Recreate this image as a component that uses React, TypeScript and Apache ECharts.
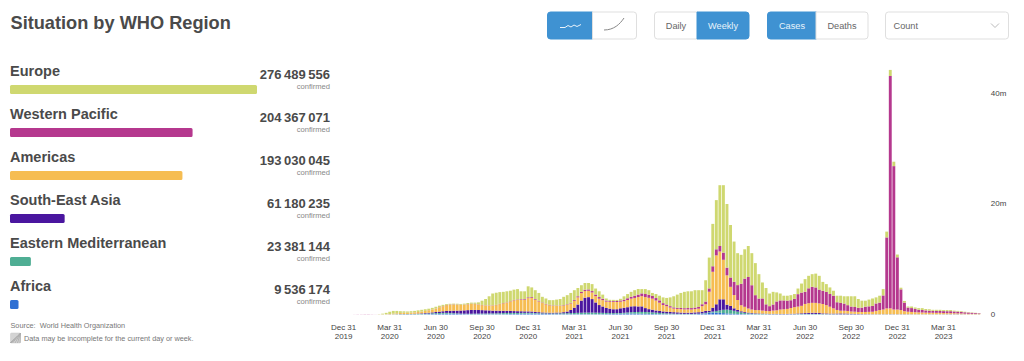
import React, { useEffect, useRef } from "react";
import * as echarts from "echarts";

const FONT = '"Liberation Sans", Arial, sans-serif';

const tickLabels = ["Dec 31\n2019","Mar 31\n2020","Jun 30\n2020","Sep 30\n2020","Dec 31\n2020","Mar 31\n2021","Jun 30\n2021","Sep 30\n2021","Dec 31\n2021","Mar 31\n2022","Jun 30\n2022","Sep 30\n2022","Dec 31\n2022","Mar 31\n2023"];

const regions = ["Europe","Western Pacific","Americas","South-East Asia","Eastern Mediterranean","Africa"];
const regionTotals = [276489556,204367071,193030045,61180235,23381144,9536174];
const regionColors = ["#cfd870","#b5388e","#f6bd52","#4a169f","#4fae94","#2f70d3"];

const africa = [0,0,0,0,0,0,0,0,0,0,
0,0,0,0,.01,.01,.01,.02,.02,.02,
.03,.03,.04,.05,.06,.08,.09,.1,.12,.13,
.13,.12,.1,.08,.07,.06,.05,.05,.05,.05,
.05,.05,.05,.05,.05,.06,.07,.08,.09,.1,
.12,.14,.15,.16,.14,.12,.1,.09,.08,.07,
.07,.06,.06,.06,.06,.06,.06,.06,.06,.05,
.05,.05,.05,.06,.07,.08,.09,.11,.13,.15,
.17,.18,.17,.15,.14,.12,.1,.09,.08,.07,
.06,.05,.04,.04,.04,.04,.04,.04,.04,.05,
.08,.12,.2,.3,.35,.35,.3,.25,.2,.15,
.12,.1,.08,.07,.06,.05,.04,.04,.03,.03,
.02,.02,.02,.02,.02,.02,.03,.03,.04,.05,
.05,.04,.04,.03,.03,.02,.02,.02,.02,.02,
.01,.01,.01,.01,.01,.01,.01,.01,.01,.01,
.01,.01,.01,.01,.02,.01,.01,.01,.01,.01,
.01,.01,.01,.01,.01,.01,.01,.01,.01,.01,
.01,.01,.01,.01,.01,.01,.01,.01,.01,.01];

const easternMediterranean = [0,0,0,0,0,0,0,0,0,0,
0,0,.01,.02,.03,.04,.05,.05,.05,.05,
.05,.06,.08,.1,.12,.14,.16,.17,.17,.16,
.14,.12,.1,.09,.08,.08,.09,.1,.11,.12,
.13,.14,.15,.16,.18,.2,.2,.2,.19,.18,
.17,.16,.15,.14,.12,.12,.11,.11,.11,.12,
.13,.14,.16,.18,.2,.22,.24,.26,.28,.29,
.29,.28,.26,.24,.21,.18,.16,.15,.14,.16,
.2,.24,.28,.31,.33,.34,.32,.28,.25,.22,
.18,.16,.14,.12,.1,.09,.08,.08,.07,.08,
.08,.09,.1,.12,.18,.3,.45,.6,.68,.65,
.55,.42,.3,.22,.16,.12,.09,.07,.06,.05,
.04,.04,.04,.03,.03,.03,.03,.03,.04,.05,
.06,.07,.07,.07,.06,.05,.05,.04,.04,.03,
.03,.03,.03,.03,.03,.02,.02,.02,.02,.02,
.02,.02,.02,.02,.02,.02,.02,.02,.02,.02,
.02,.02,.02,.02,.02,.02,.02,.02,.02,.02,
.02,.02,.02,.02,.02,.01,.01,.01,.01,.01];

const southEastAsia = [0,0,0,0,0,0,0,0,0,0,
0,0,0,0,0,.01,.02,.02,.03,.04,
.05,.07,.09,.11,.13,.16,.2,.25,.3,.35,
.4,.45,.5,.55,.6,.65,.68,.68,.65,.62,
.58,.55,.5,.48,.45,.42,.4,.38,.34,.32,
.3,.27,.26,.24,.2,.18,.16,.14,.13,.12,
.15,.15,.2,.3,.55,.95,1.5,2.2,2.7,2.8,
2.45,1.85,1.4,1.15,.9,.8,.7,.7,.85,.9,
.95,1.05,1.05,1,1,.7,.55,.5,.4,.35,
.32,.3,.28,.26,.25,.22,.2,.2,.22,.25,
.25,.3,.35,.25,.7,1.2,2,1.9,.9,.75,
.45,.3,.2,.15,.12,.1,.09,.08,.07,.06,
.05,.05,.05,.05,.05,.06,.07,.08,.1,.12,
.15,.18,.2,.2,.17,.13,.12,.1,.1,.12,
.15,.14,.12,.1,.07,.05,.04,.03,.03,.02,
.02,.02,.02,.02,.02,.02,.02,.02,.02,.02,
.01,.01,.01,.01,.01,.01,.01,.01,.01,.01,
.02,.02,.02,.02,.01,.01,.01,.01,.01,.01];

const americas = [0,0,0,0,0,0,0,0,0,0,
0,.01,.02,.05,.1,.14,.18,.2,.2,.22,
.25,.28,.32,.38,.45,.52,.62,.78,.9,1.05,
1.1,1.1,1.05,1,1,1.05,1.08,1.05,.98,.9,
.85,.87,.92,1,1.2,1.35,1.5,1.7,1.95,2.05,
2.1,2.1,2.4,2.45,2.2,1.95,1.7,1.5,1.35,1.25,
1.2,1.2,1.2,1.2,1.2,1.25,1.3,1.35,1.2,1.15,
1.2,1.15,1.15,1.15,1.15,1.25,1.35,1.3,1.2,1.2,
1.3,1.4,1.5,1.7,1.85,2,2.05,2,1.8,1.5,
1.15,1,.8,.65,.62,.62,.6,.6,.58,.6,
.65,1,1.2,3.45,6.5,8.85,8.65,7.15,5.3,3.45,
2.4,1.8,1.1,.95,.75,.63,.58,.6,.55,.5,
.5,.6,.65,.8,.85,.9,1.05,1.2,1.25,1.35,
1.65,1.75,1.8,1.8,1.75,1.7,1.5,1.25,.95,.65,
.5,.5,.48,.4,.4,.38,.38,.4,.42,.45,
.6,.75,.85,1.05,1.05,.85,.85,.75,.55,.45,
.42,.38,.35,.32,.3,.28,.27,.26,.25,.22,
.2,.2,.18,.16,.15,.12,.1,.09,.07,.05];

const westernPacific = [0,0,0,.01,.02,.02,.03,.03,.02,.01,
.01,.01,.01,.02,.02,.02,.02,.02,.02,.01,
.01,.01,.01,.01,.02,.02,.02,.03,.03,.04,
.05,.05,.05,.04,.04,.04,.05,.05,.05,.05,
.05,.05,.05,.05,.05,.05,.05,.06,.07,.08,
.1,.12,.15,.15,.13,.12,.1,.09,.08,.08,
.07,.07,.08,.1,.12,.15,.2,.22,.25,.25,
.25,.28,.3,.25,.2,.15,.15,.18,.22,.28,
.32,.35,.4,.45,.5,.55,.55,.5,.45,.42,
.35,.3,.25,.22,.2,.22,.22,.25,.25,.28,
.3,.35,.5,.6,1,1.1,1,1.3,1.4,1.7,
2.4,2.7,3.9,5.1,5.7,4.4,2.7,2.1,2.2,1.2,
.9,1.1,1.6,1.65,1.6,1.5,1.4,1.5,2.25,2.4,
2.2,2.7,2.9,2.8,2.5,2.4,2.4,2.3,2.3,1.4,
1.4,1.3,1.05,.9,.85,.75,.8,.95,1,1.05,
1.35,1.35,2.55,12.85,42.05,25.95,9.45,3.75,1.55,.75,
.7,.6,.48,.45,.4,.37,.35,.35,.35,.35,
.35,.35,.32,.3,.28,.25,.22,.18,.15,.12];

const europe = [0,0,0,0,0,0,0,0,0,0,
.04,.13,.26,.41,.49,.43,.32,.27,.23,.26,
.26,.3,.31,.3,.27,.28,.31,.27,.23,.15,
.12,.13,.15,.15,.18,.2,.2,.22,.36,.76,
1.14,1.64,2.13,2.2,2.12,2.02,1.98,1.88,1.86,1.87,
1.41,1.41,1.99,1.76,1.61,1.41,1.03,.97,.85,.96,
1.08,1.18,1.5,1.66,1.77,1.77,1.5,1.21,1.21,1.16,
1.26,1.09,1.04,.75,.37,.2,.2,.2,.3,.6,
.76,.88,1,1,.78,.89,.83,.53,.72,.84,
1.04,1.19,1.59,2.01,2.39,2.71,2.96,3.03,3.04,3.14,
3.04,2.54,3.85,5.58,7.67,8.9,11,12.2,11.52,9.5,
7.28,5.78,5.22,5.31,5.61,5.8,5.8,4.41,2.89,2.96,
2.29,2.29,1.64,1.25,.85,.89,.92,.86,1.02,1.63,
2.29,2.26,2.29,2.5,2.49,1.6,1.41,1.19,.89,1.18,
1.31,1.32,1.61,1.86,1.94,1.59,1.25,1.09,1.22,1.35,
1.1,1.25,1.15,1.05,1.1,.8,.5,.3,.3,.2,
.29,.25,.28,.34,.26,.26,.19,.2,.21,.19,
.2,.2,.15,.14,.13,.1,.07,.07,.06,.05];

const stackOrder = [
  { name: "Africa", data: africa, color: regionColors[5] },
  { name: "Eastern Mediterranean", data: easternMediterranean, color: regionColors[4] },
  { name: "South-East Asia", data: southEastAsia, color: regionColors[3] },
  { name: "Americas", data: americas, color: regionColors[2] },
  { name: "Western Pacific", data: westernPacific, color: regionColors[1] },
  { name: "Europe", data: europe, color: regionColors[0] },
];

const weeks = europe.map((_, i) => String(i));
const fmt = (n: number) => String(n).replace(/\B(?=(\d{3})+(?!\d))/g, "\u2009");

const BLUE = "#3f92d2";
const BORDER = "#dfdfdf";
const TEXT = "#4a4a4a";

function button(x: number, w: number, active: boolean, side: "l" | "r" | "n", y = 12, h = 27) {
  const r = side === "l" ? [3, 0, 0, 3] : side === "r" ? [0, 3, 3, 0] : 3;
  return {
    type: "rect", shape: { x, y, width: w, height: h, r },
    style: { fill: active ? BLUE : "#fff", stroke: active ? BLUE : BORDER, lineWidth: 1 },
  };
}
const btnText = (x: number, t: string, active: boolean, align = "center") => ({
  type: "text", x, y: 25.5,
  style: { text: t, fill: active ? "#e8f2fa" : "#666", font: `9.2px ${FONT}`, align, verticalAlign: "middle" },
});

function leftText() {
  const items: any[] = [];
  regions.forEach((name, i) => {
    const y = 71 + 43 * i;
    items.push({ type: "text", x: 10, y, style: { text: name, fill: TEXT, font: `bold 14.5px ${FONT}`, verticalAlign: "middle" } });
    items.push({ type: "text", x: 330, y: y + 3.5, style: { text: fmt(regionTotals[i]), fill: TEXT, font: `bold 13px ${FONT}`, align: "right", verticalAlign: "middle" } });
    items.push({ type: "text", x: 330, y: y + 15, style: { text: "confirmed", fill: "#888", font: `7.6px ${FONT}`, align: "right", verticalAlign: "middle" } });
  });
  return items;
}

function hatch() {
  const offsets = [2, 4.5, 7, 9.5, 12, 14.5, 17, 19.5];
  return offsets.map((o) => ({
    type: "line",
    shape: { x1: 10.5 + Math.max(0, o - 10), y1: 343, x2: 10.5 + Math.min(10, o), y2: 333 + Math.max(0, 10 - o) },
    style: { stroke: "#a9a9a9", lineWidth: 0.8 },
  }));
}

export default function App() {
  const ref = useRef<HTMLDivElement>(null);
  useEffect(() => {
    const chart = echarts.init(ref.current!, null, { renderer: "svg" });
    chart.setOption({
      animation: false,
      backgroundColor: "#fff",
      textStyle: { fontFamily: FONT },
      grid: [
        { left: 341.8, top: 38.2, width: 639, height: 276.3 },
        { left: 10, top: 68, width: 247, height: 258 },
      ],
      xAxis: [
        {
          type: "category", gridIndex: 0, data: weeks, boundaryGap: true,
          axisLine: { show: false }, axisTick: { show: false },
          axisLabel: {
            interval: 12, margin: 8, color: "#444", fontSize: 8, lineHeight: 9.5, fontFamily: FONT,
            hideOverlap: false,
            formatter: (v: string) => tickLabels[Number(v) / 13] ?? "",
          },
        },
        { type: "value", gridIndex: 1, min: 0, max: regionTotals[0], show: false },
      ],
      yAxis: [
        {
          type: "value", gridIndex: 0, position: "right", min: 0, max: 50, interval: 20,
          axisLine: { show: false }, axisTick: { show: false }, splitLine: { show: false },
          axisLabel: {
            margin: 10, color: "#444", fontSize: 8, fontFamily: FONT,
            formatter: (v: number) => (v === 0 ? "0" : v % 20 === 0 ? `${v}m` : ""),
          },
        },
        { type: "category", gridIndex: 1, inverse: true, data: regions, show: false },
      ],
      series: [
        ...stackOrder.map((s) => ({
          name: s.name, type: "bar", stack: "total", xAxisIndex: 0, yAxisIndex: 0,
          data: s.data, barWidth: 2.9, itemStyle: { color: s.color }, silent: true,
        })),
        {
          name: "Total confirmed", type: "bar", xAxisIndex: 1, yAxisIndex: 1, barWidth: 9,
          data: regionTotals.map((v, i) => ({ value: v, itemStyle: { color: regionColors[i], borderRadius: 1.5 } })),
          silent: true,
        },
      ],
      graphic: [
        { type: "text", x: 10.5, y: 23, style: { text: "Situation by WHO Region", fill: TEXT, font: `bold 18.2px ${FONT}`, verticalAlign: "middle" } },
        ...leftText(),
        { type: "text", x: 10.5, y: 325, style: { text: "Source:  World Health Organization", fill: "#777", font: `7.3px ${FONT}`, verticalAlign: "middle" } },
        { type: "rect", shape: { x: 10.5, y: 333, width: 10, height: 10, r: 1 }, style: { fill: "#d4d4d4", stroke: "#c8c8c8", lineWidth: 0.5 } },
        ...hatch(),
        { type: "text", x: 24, y: 338, style: { text: "Data may be incomplete for the current day or week.", fill: "#777", font: `7.3px ${FONT}`, verticalAlign: "middle" } },
        button(547.5, 45, true, "l"),
        button(592.5, 44, false, "r"),
        { type: "polyline", shape: { points: [[560, 27.5], [565, 27.5], [568, 25.5], [571, 27], [574, 25], [577, 26.5], [581, 24.5]] }, style: { stroke: "#eaf3fb", fill: "none", lineWidth: 1 } },
        { type: "bezierCurve", shape: { x1: 604, y1: 30, x2: 624, y2: 18, cpx1: 614, cpy1: 30, cpx2: 620, cpy2: 24 }, style: { stroke: "#888", fill: "none", lineWidth: 1 } },
        button(654.5, 43, false, "l"),
        button(697, 52, true, "r"),
        btnText(676, "Daily", false),
        btnText(723, "Weekly", true),
        button(767.5, 49, true, "l"),
        button(816, 52, false, "r"),
        btnText(792, "Cases", true),
        btnText(842, "Deaths", false),
        button(885.5, 123, false, "n"),
        btnText(893.5, "Count", false, "left"),
        { type: "polyline", shape: { points: [[991, 23.5], [995, 27.5], [999, 23.5]] }, style: { stroke: "#bbb", fill: "none", lineWidth: 1 } },
      ],
    });
    return () => chart.dispose();
  }, []);
  return <div ref={ref} style={{ position: "absolute", left: 0, top: 0, width: 1024, height: 361 }} />;
}
